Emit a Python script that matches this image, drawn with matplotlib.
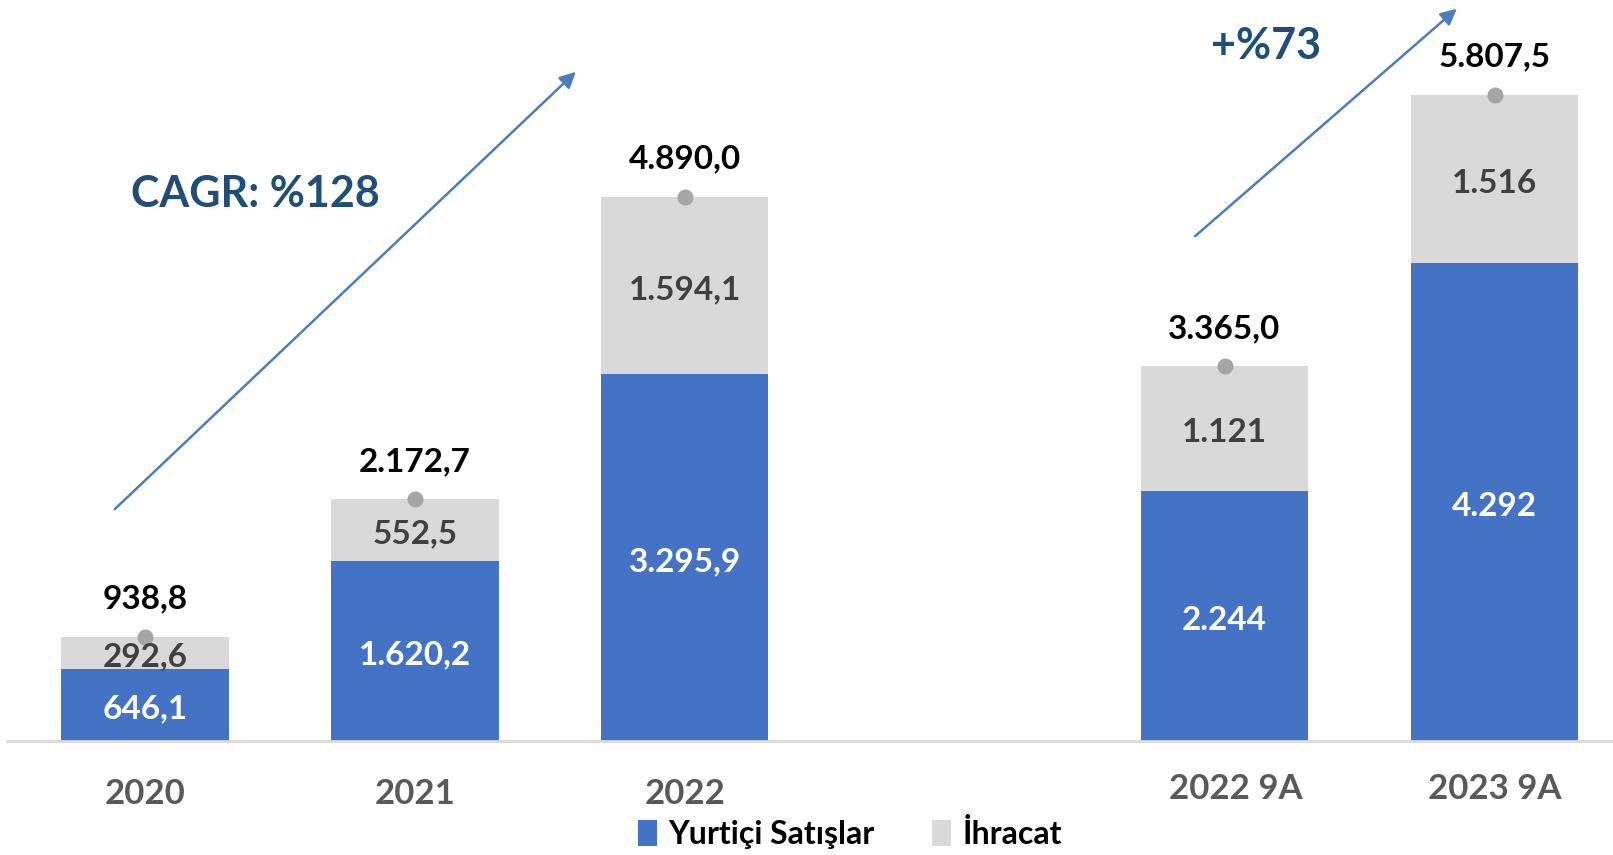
import numpy as np
import matplotlib
matplotlib.use("Agg")
import matplotlib.pyplot as plt

plt.rcParams['font.family'] = ['Lato', 'DejaVu Sans']
plt.rcParams['font.weight'] = 'bold'

# data (million TL)
categories = ["2020", "2021", "2022", "2022 9A", "2023 9A"]
x_pos = [0, 1, 2, 4, 5]
domestic = [646.1, 1620.2, 3295.9, 2244, 4292]
exports = [292.6, 552.5, 1594.1, 1121, 1516]
totals = [938.8, 2172.7, 4890.0, 3365.0, 5807.5]
seg_decimals = [1, 1, 1, 0, 0]

BLUE = "#4472C4"
GREY = "#D9D9D9"
NAVY = "#1F4E79"
ARROW = "#4A7EBB"


def fmt(v, dec):
    # turkish style: 1.234,5
    s = f"{v:,.{dec}f}"
    return s.replace(",", "X").replace(".", ",").replace("X", ".")


fig = plt.figure(figsize=(16.13, 8.55), dpi=100)
ax = fig.add_axes([0, 114 / 855, 1, 741 / 855])

b1 = ax.bar(x_pos, domestic, width=0.62, color=BLUE, label="Yurtiçi Satışlar", zorder=2)
b2 = ax.bar(x_pos, exports, width=0.62, bottom=domestic, color=GREY, label="İhracat", zorder=2)
ax.scatter(x_pos, totals, s=110, color="#A5A5A5", zorder=4)

for x, d, e, t, dec in zip(x_pos, domestic, exports, totals, seg_decimals):
    ax.annotate(fmt(d, dec), (x, d / 2), xytext=(0, -3), textcoords="offset points",
                ha="center", va="center", color="white", fontsize=24, zorder=5)
    ax.annotate(fmt(e, dec), (x, d + e / 2), xytext=(0, -3), textcoords="offset points",
                ha="center", va="center", color="#404040", fontsize=24, zorder=5)
    ax.annotate(fmt(t, 1), (x, t), xytext=(0, 27), textcoords="offset points",
                ha="center", va="center", color="black", fontsize=24)

for x, c in zip(x_pos, categories):
    dy = -38 if "9A" not in c else -34.5
    dx = 0 if c != "2022 9A" else 8
    ax.annotate(c, (x, 0), xytext=(dx, dy), textcoords="offset points",
                ha="center", va="center", color="#595959", fontsize=25)

ax.set_xlim(-0.537, 5.439)
ax.set_ylim(0, 6657)
ax.set_xticks([])
ax.set_yticks([])
for s in ["top", "right", "left"]:
    ax.spines[s].set_visible(False)
ax.spines["bottom"].set_color(GREY)
ax.spines["bottom"].set_linewidth(2)
ax.spines["bottom"].set_bounds(-0.511, 5.439)

# growth arrows
ax.annotate("", xy=(1.604, 6029), xytext=(-0.119, 2066),
            arrowprops=dict(arrowstyle="-|>", color=ARROW, lw=1.8, mutation_scale=24))
ax.annotate("", xy=(4.868, 6595), xytext=(3.883, 4519),
            arrowprops=dict(arrowstyle="-|>", color=ARROW, lw=1.8, mutation_scale=24))
ax.text(0.408, 4915, "CAGR: %128", ha="center", va="center", color=NAVY, fontsize=31)
ax.text(4.153, 6245, "+%73", ha="center", va="center", color=NAVY, fontsize=31)

fig.legend(handles=[b1, b2], loc="center", bbox_to_anchor=(0.527, 0.0246), ncol=2,
           frameon=False, fontsize=23, handlelength=0.6, handleheight=0.9,
           handletextpad=0.35, columnspacing=1.8, borderpad=0)

fig.savefig("out.png", dpi=100)
